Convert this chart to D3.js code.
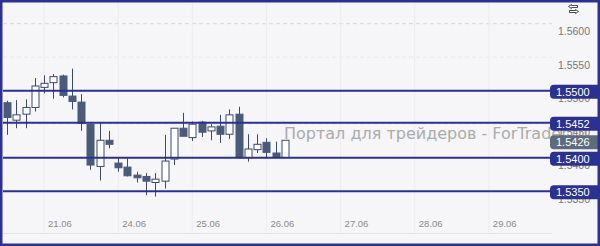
<!DOCTYPE html>
<html>
<head>
<meta charset="utf-8">
<script src="https://cdn.jsdelivr.net/npm/d3@7"></script>
<style>
  body { margin: 0; background: #fff; }
  svg { display: block; }
</style>
</head>
<body>
<div id="chart"></div>
<script>
// 3-hour candles, 20.06 .. 26.06
const open  = [1.5482, 1.5456, 1.5465, 1.5475, 1.5505, 1.5512, 1.5522, 1.5492, 1.5483, 1.5450, 1.5387,
               1.5426, 1.5392, 1.5386, 1.5374, 1.5372, 1.5363, 1.5365, 1.5398, 1.5444, 1.5430, 1.5453,
               1.5440, 1.5447, 1.5435, 1.5465, 1.5400, 1.5412, 1.5423, 1.5407, 1.5400]
const high  = [1.5485, 1.5486, 1.5487, 1.5519, 1.5523, 1.5525, 1.5524, 1.5533, 1.5495, 1.5451, 1.5452,
               1.5440, 1.5399, 1.5399, 1.5379, 1.5377, 1.5377, 1.5434, 1.5444, 1.5467, 1.5454, 1.5455,
               1.5450, 1.5464, 1.5472, 1.5476, 1.5435, 1.5435, 1.5429, 1.5424, 1.5426]
const low   = [1.5434, 1.5444, 1.5444, 1.5469, 1.5496, 1.5488, 1.5490, 1.5472, 1.5440, 1.5382, 1.5366,
               1.5414, 1.5379, 1.5372, 1.5363, 1.5344, 1.5342, 1.5354, 1.5389, 1.5432, 1.5425, 1.5431,
               1.5426, 1.5422, 1.5428, 1.5400, 1.5394, 1.5407, 1.5400, 1.5400, 1.5400]
const close = [1.5460, 1.5464, 1.5475, 1.5507, 1.5511, 1.5521, 1.5493, 1.5484, 1.5451, 1.5389, 1.5426,
               1.5420, 1.5385, 1.5373, 1.5370, 1.5365, 1.5368, 1.5395, 1.5444, 1.5432, 1.5450, 1.5438,
               1.5446, 1.5435, 1.5464, 1.5400, 1.5413, 1.5420, 1.5408, 1.5400, 1.5426]

const dayLabels = ["21.06", "24.06", "25.06", "26.06", "27.06", "28.06", "29.06"]
const dayStart = [4, 12, 20, 28, 36, 44, 52]   // candle index where the day begins

const priceTicks = [1.5350, 1.5400, 1.5450, 1.5500, 1.5550, 1.5600]
const levels = [1.5500, 1.5452, 1.5400, 1.5350]
const lastPrice = 1.5426

const w = 600
const h = 246
const plotRight = 552
const navy = "#2b3190"
const candleDark = "#4a5a7a"

const x = d3.scaleLinear().domain([0, 30]).range([7, 285])
const y = d3.scaleLinear().domain([1.54, 1.55]).range([157.7, 90.7])

const svg = d3.select("#chart")
  .append("svg")
  .attr("width", w)
  .attr("height", h)

svg.append("rect")
  .attr("width", w)
  .attr("height", h)
  .attr("fill", "#f6f6f8")

// grid
svg.selectAll("line.hgrid")
  .data(priceTicks)
  .enter()
  .append("line")
  .attr("class", "hgrid")
  .attr("x1", 3)
  .attr("x2", plotRight)
  .attr("y1", d => y(d))
  .attr("y2", d => y(d))
  .attr("stroke", (d, i) => i == priceTicks.length - 1 ? "#d9d7cc" : "#e9e9ee")
  .attr("stroke-dasharray", "4,3")

svg.selectAll("line.vgrid")
  .data(dayStart)
  .enter()
  .append("line")
  .attr("class", "vgrid")
  .attr("x1", d => x(d))
  .attr("x2", d => x(d))
  .attr("y1", 3)
  .attr("y2", 233)
  .attr("stroke", "#ececf0")

svg.append("line")
  .attr("x1", 3)
  .attr("x2", plotRight)
  .attr("y1", 233.5)
  .attr("y2", 233.5)
  .attr("stroke", "#e2e2e8")

// x labels
svg.selectAll("text.xlab")
  .data(dayLabels)
  .enter()
  .append("text")
  .attr("class", "xlab")
  .text(d => d)
  .attr("x", (d, i) => x(dayStart[i]) + 4)
  .attr("y", 227)
  .attr("font-family", "Liberation Sans, Arial, sans-serif")
  .attr("font-size", "9.5px")
  .attr("fill", "#8a8a8a")

// y labels
svg.selectAll("text.ylab")
  .data(priceTicks)
  .enter()
  .append("text")
  .attr("class", "ylab")
  .text(d => d.toFixed(4))
  .attr("x", 590)
  .attr("y", d => y(d) + 11.5)
  .attr("text-anchor", "end")
  .attr("font-family", "Liberation Sans, Arial, sans-serif")
  .attr("font-size", "10.5px")
  .attr("fill", "#777")

// watermark
svg.append("text")
  .text("Портал для трейдеров - ForTrader.ru")
  .attr("x", 284)
  .attr("y", 138.5)
  .attr("font-family", "DejaVu Sans, Verdana, sans-serif")
  .attr("font-size", "16px")
  .attr("fill", "#ababab")

// candles
const idx = d3.range(open.length)
const bw = 7

svg.selectAll("line.wick")
  .data(idx)
  .enter()
  .append("line")
  .attr("class", "wick")
  .attr("x1", i => Math.round(x(i)) + 0.5)
  .attr("x2", i => Math.round(x(i)) + 0.5)
  .attr("y1", i => y(high[i]))
  .attr("y2", i => y(low[i]))
  .attr("stroke", "#3c4a66")

svg.selectAll("rect.body")
  .data(idx)
  .enter()
  .append("rect")
  .attr("class", "body")
  .attr("x", i => Math.round(x(i)) - bw / 2 + 0.5)
  .attr("y", i => y(Math.max(open[i], close[i])))
  .attr("width", bw)
  .attr("height", i => Math.max(1, Math.abs(y(open[i]) - y(close[i]))))
  .attr("fill", i => close[i] >= open[i] ? "#ffffff" : candleDark)
  .attr("stroke", i => close[i] >= open[i] ? "#3c4a66" : candleDark)

// level lines
svg.selectAll("line.level")
  .data(levels)
  .enter()
  .append("line")
  .attr("class", "level")
  .attr("x1", 3)
  .attr("x2", plotRight)
  .attr("y1", d => y(d))
  .attr("y2", d => y(d))
  .attr("stroke", navy)
  .attr("stroke-width", 2)

// badges
function badge(v, color, dy) {
  const g = svg.append("g").attr("transform", "translate(550," + (y(v) + dy) + ")")
  g.append("rect")
    .attr("x", 0)
    .attr("y", -7)
    .attr("width", 52)
    .attr("height", 14)
    .attr("rx", 4)
    .attr("fill", color)
  g.append("text")
    .text(v.toFixed(4))
    .attr("x", 6)
    .attr("y", 4)
    .attr("font-family", "Liberation Sans, Arial, sans-serif")
    .attr("font-size", "11px")
    .attr("fill", "#fff")
}
levels.forEach(v => badge(v, navy, 1))
badge(lastPrice, "#5e6b7c", 2)

// toolbar icon
const ic = svg.append("g").attr("transform", "translate(568,4)")
ic.append("path")
  .attr("d", "M0.5,2.5 L3.5,0.5 L3.5,1.5 L9.5,1.5 L9.5,3.5 L3.5,3.5 L3.5,4.5 Z")
  .attr("fill", "#fff").attr("stroke", "#222").attr("stroke-width", 0.8)
ic.append("path")
  .attr("d", "M10.5,7.5 L7.5,5.5 L7.5,6.5 L1.5,6.5 L1.5,8.5 L7.5,8.5 L7.5,9.5 Z")
  .attr("fill", "#fff").attr("stroke", "#222").attr("stroke-width", 0.8)

// frame
svg.append("rect")
  .attr("x", 1.25)
  .attr("y", 1.25)
  .attr("width", w - 2.5)
  .attr("height", h - 2.5)
  .attr("fill", "none")
  .attr("stroke", navy)
  .attr("stroke-width", 2.5)
</script>
</body>
</html>
